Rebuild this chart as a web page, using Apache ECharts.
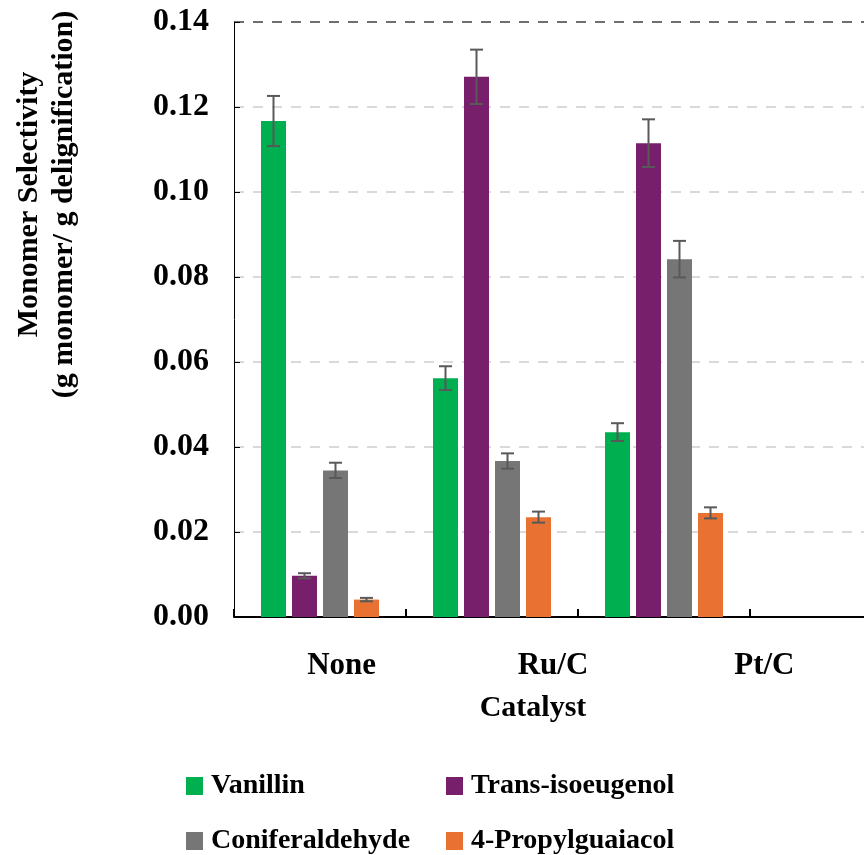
<!DOCTYPE html>
<html>
<head>
<meta charset="utf-8">
<script src="https://cdn.jsdelivr.net/npm/echarts@6/dist/echarts.min.js"></script>
<style>html,body{margin:0;padding:0;background:#fff}#c{width:864px;height:855px}</style>
</head>
<body>
<div id="c"></div>
<script>
// ---- data ----
var catalysts = ['None', 'Ru/C', 'Pt/C'];
var seriesNames = ['Vanillin', 'Trans-isoeugenol', 'Coniferaldehyde', '4-Propylguaiacol'];
var vanillin = [0.1167, 0.0562, 0.0435];
var vanillinErr = [0.0059, 0.0028, 0.0021];
var transIsoeugenol = [0.0097, 0.1271, 0.1115];
var transIsoeugenolErr = [0.0006, 0.0064, 0.0056];
var coniferaldehyde = [0.0345, 0.0367, 0.0842];
var coniferaldehydeErr = [0.0018, 0.0018, 0.0043];
var propylguaiacol = [0.0041, 0.0235, 0.0245];
var propylguaiacolErr = [0.0004, 0.0013, 0.0013];
var yMin = 0, yMax = 0.14, yStep = 0.02;

var values = [vanillin, transIsoeugenol, coniferaldehyde, propylguaiacol];
var errors = [vanillinErr, transIsoeugenolErr, coniferaldehydeErr, propylguaiacolErr];
var colors = ['#00B050', '#781F6B', '#767676', '#E97132'];

var FONT = "'Liberation Serif', 'Times New Roman', serif";
var BAR_W = 25, BAR_GAP = 6;

var chart = echarts.init(document.getElementById('c'), null, {renderer: 'canvas'});

var series = [];
values.forEach(function (vals, k) {
  series.push({
    name: seriesNames[k], type: 'bar', xAxisIndex: 0, yAxisIndex: 0,
    data: vals, barWidth: BAR_W, barGap: (BAR_GAP / BAR_W * 100) + '%',
    itemStyle: {color: colors[k]}, z: 2
  });
});
values.forEach(function (vals, k) {
  var off = (k - (values.length - 1) / 2) * (BAR_W + BAR_GAP);
  series.push({
    name: seriesNames[k] + ' err', type: 'custom', xAxisIndex: 0, yAxisIndex: 0, z: 5,
    data: vals.map(function (v, i) { return [i, v, errors[k][i]]; }),
    renderItem: function (params, api) {
      var i = api.value(0), v = api.value(1), e = api.value(2);
      var hi = api.coord([i, v + e]), lo = api.coord([i, v - e]);
      var x = hi[0] + off, hw = 6.5;
      var st = {stroke: '#595959', lineWidth: 2};
      return {type: 'group', children: [
        {type: 'line', shape: {x1: x, y1: hi[1], x2: x, y2: lo[1]}, style: st},
        {type: 'line', shape: {x1: x - hw, y1: hi[1], x2: x + hw, y2: hi[1]}, style: st},
        {type: 'line', shape: {x1: x - hw, y1: lo[1], x2: x + hw, y2: lo[1]}, style: st}
      ]};
    }
  });
});

var gridColors = [];
for (var t = yMin; t < yMax - 1e-9; t += yStep) gridColors.push('#d9d9d9');
gridColors.push('#6f6f6f');

var labelStyle = {fontFamily: FONT, fontWeight: 'bold', fontSize: 30, color: '#000'};
var tickStyle = {fontFamily: FONT, fontWeight: 'bold', fontSize: 32, color: '#000'};
var catStyle = {fontFamily: FONT, fontWeight: 'bold', fontSize: 31, color: '#000'};
var legendStyle = {fontFamily: FONT, fontWeight: 'bold', fontSize: 28, color: '#000'};

// legend layout: 2 columns x 2 rows
var legendPos = [[186, 772], [446, 772], [186, 827], [446, 827]];
var legends = seriesNames.map(function (n, k) {
  return {
    data: [n], left: legendPos[k][0], top: legendPos[k][1],
    padding: 0, itemWidth: 17, itemHeight: 18, icon: 'rect', selectedMode: false,
    textStyle: Object.assign({padding: [0, 0, 0, 3]}, legendStyle)
  };
});

chart.setOption({
  animation: false,
  backgroundColor: '#fff',
  grid: [
    {left: 234, top: 22, height: 595, width: 688, outerBoundsMode: 'none', containLabel: false},
    {left: 236, top: 22, height: 595, width: 634, outerBoundsMode: 'none', containLabel: false}
  ],
  xAxis: [
    {
      type: 'category', gridIndex: 0, data: catalysts.concat(['']),
      axisLine: {lineStyle: {color: '#000', width: 2}},
      axisTick: {show: true, inside: true, length: 8, interval: 0, lineStyle: {color: '#000', width: 2}},
      axisLabel: {show: false}, splitLine: {show: false}
    },
    {
      type: 'category', gridIndex: 1, data: catalysts,
      axisLine: {show: false}, axisTick: {show: false},
      axisLabel: Object.assign({margin: 33, interval: 0}, catStyle),
      name: 'Catalyst', nameLocation: 'middle', nameGap: 76,
      nameTextStyle: Object.assign({padding: [0, 40, 0, 0]}, labelStyle)
    }
  ],
  yAxis: [
    {
      type: 'value', gridIndex: 0, min: yMin, max: yMax, interval: yStep,
      axisLine: {show: true, lineStyle: {color: '#000', width: 1}},
      axisTick: {show: true, inside: true, length: 6, lineStyle: {color: '#000'}},
      axisLabel: Object.assign({margin: 25, formatter: function (v) { return v.toFixed(2); }}, tickStyle),
      splitLine: {show: true, lineStyle: {color: gridColors, width: 2, type: [10, 9]}},
      name: 'Monomer Selectivity\n(g monomer/ g delignification)',
      nameLocation: 'middle', nameRotate: 90, nameGap: 152,
      nameTextStyle: Object.assign({lineHeight: 35, padding: [0, 0, 0, 230]}, labelStyle)
    },
    {type: 'value', gridIndex: 1, show: false, min: yMin, max: yMax}
  ],
  legend: legends,
  series: series
});
</script>
</body>
</html>
